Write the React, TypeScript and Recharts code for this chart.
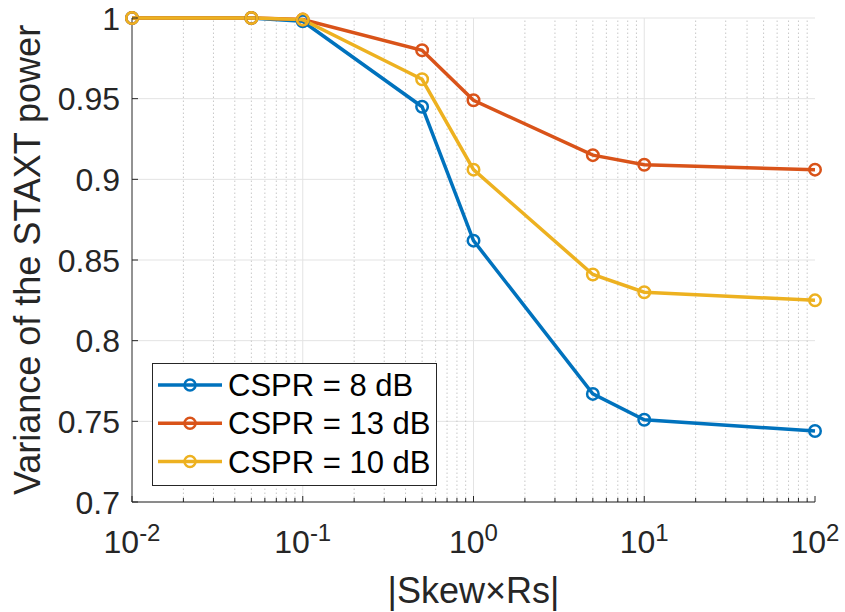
import {
  LineChart,
  Line,
  XAxis,
  YAxis,
  CartesianGrid,
  ReferenceLine,
  Legend,
} from 'recharts';

const skew = [0.01, 0.05, 0.1, 0.5, 1, 5, 10, 100];
const cspr8 = [1.0, 1.0, 0.998, 0.945, 0.862, 0.767, 0.751, 0.744];
const cspr13 = [1.0, 1.0, 0.999, 0.98, 0.949, 0.915, 0.909, 0.906];
const cspr10 = [1.0, 1.0, 0.999, 0.962, 0.906, 0.841, 0.83, 0.825];

const seriesKeys = ['cspr8', 'cspr13', 'cspr10'];

const decades = [0.01, 0.1, 1, 10, 100];
const decadeExp = ['-2', '-1', '0', '1', '2'];
const yTicks = [0.7, 0.75, 0.8, 0.85, 0.9, 0.95, 1];

// 2..9 within each decade, for the log minor ticks / dotted grid
const minorTicks: number[] = [];
decades.slice(0, -1).forEach((d) => {
  for (let k = 2; k <= 9; k++) minorTicks.push(+(d * k).toPrecision(3));
});
const allXTicks = [...decades, ...minorTicks].sort((a, b) => a - b);

const data = skew.map((s, i) => ({
  skew: s,
  cspr8: cspr8[i],
  cspr13: cspr13[i],
  cspr10: cspr10[i],
}));

const FONT = '"Liberation Sans", Arial, Helvetica, sans-serif';
const INK = '#262626';
const BLUE = '#0072BD';
const ORANGE = '#D95319';
const YELLOW = '#EDB120';

const isDecade = (v: number) => {
  const l = Math.log10(v);
  return Math.abs(l - Math.round(l)) < 1e-9;
};

function BottomTick(props: any) {
  const { x, y, payload } = props;
  const v = payload.value as number;
  const major = isDecade(v);
  const idx = decades.findIndex((d) => Math.abs(d - v) < 1e-12);
  return (
    <g>
      <line x1={x} x2={x} y1={y} y2={y - (major ? 6 : 4)} stroke={INK} strokeWidth={1} />
      {major && idx >= 0 && (
        <text x={x} y={y + 51} textAnchor="middle" fill={INK} fontFamily={FONT}>
          <tspan fontSize={32}>10</tspan>
          <tspan fontSize={24} dy={-12}>
            {decadeExp[idx]}
          </tspan>
        </text>
      )}
    </g>
  );
}

function TopTick(props: any) {
  const { x, y, payload } = props;
  const major = isDecade(payload.value);
  return <line x1={x} x2={x} y1={y} y2={y + (major ? 6 : 4)} stroke={INK} strokeWidth={1} />;
}

function LeftTick(props: any) {
  const { x, y, payload } = props;
  const v = payload.value as number;
  return (
    <g>
      <line x1={x} x2={x + 6} y1={y} y2={y} stroke={INK} strokeWidth={1} />
      <text x={x - 12} y={y} dy="0.36em" textAnchor="end" fontSize={32} fill={INK} fontFamily={FONT}>
        {String(+v.toFixed(2))}
      </text>
    </g>
  );
}

function RightTick(props: any) {
  const { x, y } = props;
  return <line x1={x} x2={x - 6} y1={y} y2={y} stroke={INK} strokeWidth={1} />;
}

function YTitle(props: any) {
  const { viewBox } = props;
  const cx = viewBox.x + 40;
  const cy = viewBox.y + viewBox.height / 2;
  return (
    <text
      x={cx}
      y={cy}
      transform={`rotate(-90 ${cx} ${cy})`}
      textAnchor="middle"
      fontSize={36}
      fill={INK}
      fontFamily={FONT}
    >
      Variance of the STAXT power
    </text>
  );
}

function XTitle(props: any) {
  const { viewBox } = props;
  return (
    <text
      x={viewBox.x + viewBox.width / 2}
      y={viewBox.y + 101}
      textAnchor="middle"
      fontSize={36}
      fill={INK}
      fontFamily={FONT}
    >
      |Skew×Rs|
    </text>
  );
}

function LegendBox(props: any) {
  const items = props.payload || [];
  return (
    <svg width={285} height={123} style={{ display: 'block' }}>
      <rect x={0.5} y={0.5} width={284} height={122} fill="#fff" stroke={INK} strokeWidth={1} />
      {items.map((it: any, i: number) => {
        const cy = 22 + i * 38.3;
        return (
          <g key={it.value}>
            <line x1={6} x2={70} y1={cy} y2={cy} stroke={it.color} strokeWidth={3.5} />
            <circle cx={38} cy={cy} r={5.5} fill="none" stroke={it.color} strokeWidth={2.5} />
            <text x={76} y={cy} dy="0.36em" fontSize={31} fill="#000" fontFamily={FONT}>
              {it.value}
            </text>
          </g>
        );
      })}
    </svg>
  );
}

const dotStyle = (color: string) => ({ r: 5.75, strokeWidth: 2.5, fill: 'none', stroke: color });

export default function App() {
  return (
    <div style={{ position: 'absolute', left: 0, top: 0, background: '#fff' }}>
      <LineChart
        width={845}
        height={612}
        data={data}
        margin={{ top: 18, right: 30, bottom: 0, left: 0 }}
      >
        <CartesianGrid vertical={false} stroke="#e3e3e3" strokeWidth={1} />
        {minorTicks.map((v) => (
          <ReferenceLine key={`m${v}`} x={v} stroke="#c8c8c8" strokeDasharray="1.5 2.5" strokeWidth={1} />
        ))}
        {decades.slice(1, -1).map((v) => (
          <ReferenceLine key={`d${v}`} x={v} stroke="#e3e3e3" strokeWidth={1} />
        ))}
        <XAxis
          dataKey="skew"
          type="number"
          scale="log"
          domain={[0.01, 100]}
          ticks={allXTicks}
          interval={0}
          height={110}
          tickSize={0}
          tickMargin={0}
          tickLine={false}
          tick={<BottomTick />}
          axisLine={{ stroke: INK, strokeWidth: 1 }}
          label={<XTitle />}
        />
        <XAxis
          xAxisId="top"
          orientation="top"
          dataKey="skew"
          type="number"
          scale="log"
          domain={[0.01, 100]}
          ticks={allXTicks}
          interval={0}
          height={0}
          tickSize={0}
          tickMargin={0}
          tickLine={false}
          tick={<TopTick />}
          axisLine={{ stroke: INK, strokeWidth: 1 }}
        />
        <YAxis
          type="number"
          domain={[0.7, 1]}
          ticks={yTicks}
          interval={0}
          width={132}
          tickSize={0}
          tickMargin={0}
          tickLine={false}
          tick={<LeftTick />}
          axisLine={{ stroke: INK, strokeWidth: 1 }}
          label={<YTitle />}
        />
        <YAxis
          yAxisId="right"
          orientation="right"
          type="number"
          domain={[0.7, 1]}
          ticks={yTicks}
          interval={0}
          width={0}
          tickSize={0}
          tickMargin={0}
          tickLine={false}
          tick={<RightTick />}
          axisLine={{ stroke: INK, strokeWidth: 1 }}
        />
        <Legend
          layout="vertical"
          align="center"
          verticalAlign="middle"
          itemSorter={(item: any) => seriesKeys.indexOf(item.dataKey)}
          content={<LegendBox />}
          wrapperStyle={{ position: 'absolute', left: 152, top: 363, width: 285, height: 123 }}
        />
        <Line
          dataKey="cspr8"
          name="CSPR = 8 dB"
          stroke={BLUE}
          strokeWidth={3.5}
          dot={dotStyle(BLUE)}
          activeDot={false}
          isAnimationActive={false}
        />
        <Line
          dataKey="cspr13"
          name="CSPR = 13 dB"
          stroke={ORANGE}
          strokeWidth={3.5}
          dot={dotStyle(ORANGE)}
          activeDot={false}
          isAnimationActive={false}
        />
        <Line
          dataKey="cspr10"
          name="CSPR = 10 dB"
          stroke={YELLOW}
          strokeWidth={3.5}
          dot={dotStyle(YELLOW)}
          activeDot={false}
          isAnimationActive={false}
        />
      </LineChart>
    </div>
  );
}
